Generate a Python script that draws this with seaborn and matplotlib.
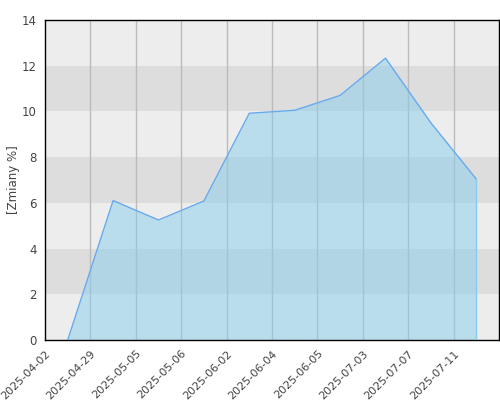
import numpy as np
import pandas as pd
import matplotlib
matplotlib.use("Agg")
import matplotlib.pyplot as plt
import seaborn as sns

# data
tick_labels = ['2025-04-02', '2025-04-29', '2025-05-05', '2025-05-06', '2025-06-02',
               '2025-06-04', '2025-06-05', '2025-07-03', '2025-07-07', '2025-07-11']
point_pos = [0.5, 1.5, 2.5, 3.5, 4.5, 5.5, 6.5, 7.5, 8.5, 9.5]
values = [0.0, 6.1, 5.25, 6.08, 9.92, 10.05, 10.7, 12.33, 9.5, 7.04]

df = pd.DataFrame({'pos': point_pos, 'value': values})

sns.set_style("white")
plt.rcParams['font.family'] = ['DejaVu Sans']

fig = plt.figure(figsize=(5, 4), dpi=100)
ax = fig.add_axes([0.09, 0.15, 0.908, 0.80])

# alternating horizontal bands
for y0 in range(0, 14, 2):
    color = '#dddddd' if (y0 // 2) % 2 == 1 else '#ededed'
    ax.axhspan(y0, y0 + 2, color=color, zorder=0, lw=0)

# vertical grid
for x in range(1, 10):
    ax.axvline(x, color='#bbbbbb', lw=1, zorder=1)

ax.fill_between(df['pos'], df['value'], 0, color='#87ceeb', alpha=0.5, lw=0, zorder=2)
sns.lineplot(data=df, x='pos', y='value', ax=ax, color='#66aaee', lw=1, zorder=3)
ax.plot([df['pos'].iloc[-1]] * 2, [0, df['value'].iloc[-1]], color='#88ccee', lw=1, zorder=3)

ax.set_xlim(0, 10)
ax.set_ylim(0, 14)
ax.set_xticks(range(10))
ax.set_xticklabels(tick_labels, rotation=45, ha='right', rotation_mode='anchor',
                   fontsize=8, color='#444444')
ax.set_yticks(range(0, 15, 2))
ax.set_yticklabels([str(v) for v in range(0, 15, 2)], fontsize=8.5, color='#444444')
ax.tick_params(axis='both', length=0, pad=6)
ax.set_xlabel('')
ax.set_ylabel('[Zmiany %]', fontsize=8.5, color='#444444', labelpad=1)

for s in ax.spines.values():
    s.set_visible(True)
    s.set_color('black')
    s.set_linewidth(1)

fig.savefig('out.png', dpi=100)
